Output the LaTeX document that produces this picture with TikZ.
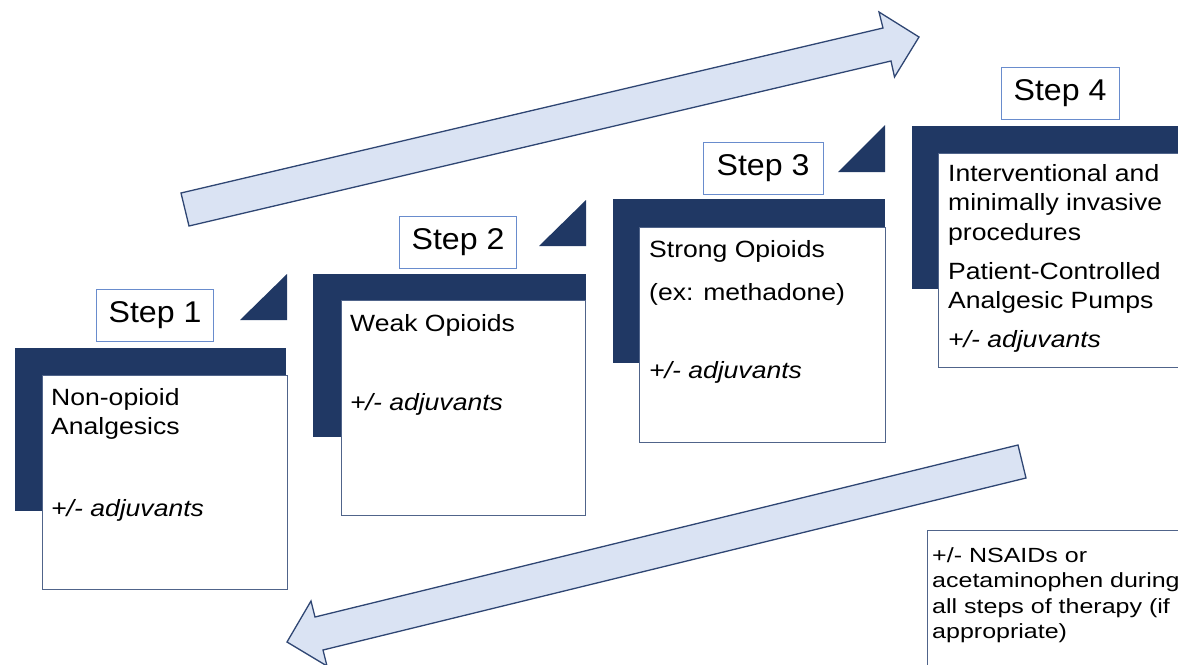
\documentclass[tikz,border=0pt]{standalone}
\usepackage{fontspec}
\setmainfont[FakeStretch=1.13]{Liberation Sans}
\newfontfamily\stepfont[FakeStretch=1.07]{Liberation Sans}
\newfontfamily\notefont[FakeStretch=1.22]{Liberation Sans}
\usetikzlibrary{positioning}

\definecolor{navy}{RGB}{32,56,100}
\definecolor{cardline}{RGB}{80,100,138}
\definecolor{labelline}{RGB}{105,140,205}
\definecolor{arrowfill}{RGB}{218,227,243}
\definecolor{arrowline}{RGB}{47,70,115}

\tikzset{
  card/.style={draw=cardline, fill=white, line width=1pt, anchor=north west, inner sep=0pt},
  steplabel/.style={draw=labelline, fill=white, line width=1pt, minimum height=52pt, inner sep=0pt, font=\stepfont\fontsize{30}{36}\selectfont},
  txt/.style={anchor=base west, inner sep=0pt, font=\fontsize{23.5}{29.5}\selectfont},
  bigarrow/.style={fill=arrowfill, draw=arrowline, line width=1.3pt, line join=miter}
}

\begin{document}
\begin{tikzpicture}[x=1pt,y=-1pt]
  \useasboundingbox (0,0) rectangle (1178,664);
  \clip (0,0) rectangle (1178,664);

  % arrows
  \draw[bigarrow] (181,193) -- (883,28) -- (879,12) -- (919,37) -- (894.5,77) -- (891,61) -- (189,226) -- cycle;
  \draw[bigarrow] (1018,445) -- (315,617) -- (311,601) -- (287,642) -- (327,666) -- (323,650) -- (1026,478) -- cycle;

  % step 1
  \fill[navy] (15,348) rectangle (286,511);
  \node[card, minimum width=245pt, minimum height=214pt] (c1) at (42,375) {};
  \fill[navy] (240,320) -- (287,320) -- (287,274) -- cycle;
  \node[steplabel, minimum width=117pt] (s1) at (155,315) {Step 1};
  \node[txt] (t1) at ([shift={(9,30)}]c1.north west)
    {\parbox[t]{230pt}{Non-opioid\\Analgesics\\[52pt]\textit{+/- adjuvants}}};

  % step 2
  \fill[navy] (313,274) rectangle (586,437);
  \node[card, minimum width=244pt, minimum height=215pt] (c2) at (341,300) {};
  \fill[navy] (539,246) -- (586,246) -- (586,200) -- cycle;
  \node[steplabel, minimum width=117pt] (s2) at (458,242) {Step 2};
  \node[txt] (t2) at ([shift={(9,31)}]c2.north west)
    {\parbox[t]{230pt}{Weak Opioids\\[50pt]\textit{+/- adjuvants}}};

  % step 3
  \fill[navy] (613,199) rectangle (885,363);
  \node[card, minimum width=246pt, minimum height=215pt] (c3) at (639,227) {};
  \fill[navy] (838,172) -- (885,172) -- (885,125) -- cycle;
  \node[steplabel, minimum width=120pt] (s3) at (763,168) {Step 3};
  \node[txt] (t3) at ([shift={(10,30)}]c3.north west)
    {\parbox[t]{230pt}{Strong Opioids\\[13.5pt](ex: methadone)\\[48.5pt]\textit{+/- adjuvants}}};

  % step 4
  \fill[navy] (912,126) rectangle (1200,289);
  \node[card, minimum width=260pt, minimum height=214pt] (c4) at (938,153) {};
  \node[steplabel, minimum width=118pt] (s4) at (1060,93.5) {Step 4};
  \node[txt] (t4) at ([shift={(10,28)}]c4.north west)
    {\parbox[t]{250pt}{Interventional and\\minimally invasive\\procedures\\[9.5pt]Patient-Controlled\\Analgesic Pumps\\[9.5pt]\textit{+/- adjuvants}}};

  % note
  \node[card, minimum width=280pt, minimum height=160pt] (nb) at (927,530) {};
  \node[txt, font=\notefont\fontsize{20.5}{25.5}\selectfont] (nt) at ([shift={(5,32)}]nb.north west)
    {\parbox[t]{260pt}{+/- NSAIDs or\\acetaminophen during\\all steps of therapy (if\\appropriate)}};
\end{tikzpicture}
\end{document}
